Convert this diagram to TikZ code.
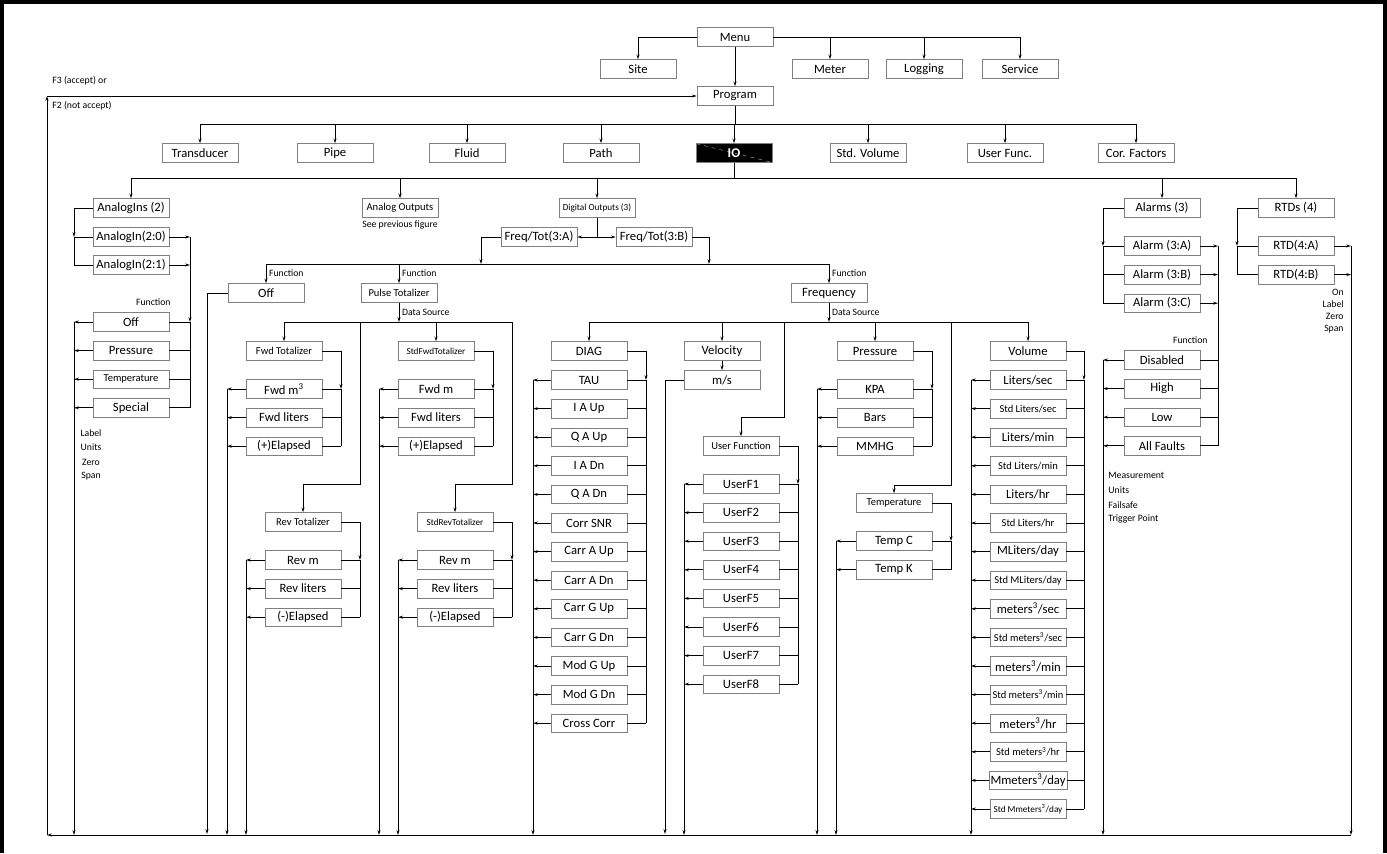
\documentclass[tikz,border=0pt]{standalone}
\usepackage{fontspec}
\setmainfont{Carlito}
\usetikzlibrary{arrows.meta}

\newcommand{\smtxt}{\fontsize{7.9}{8.5}\selectfont}
\newcommand{\tinytxt}{\fontsize{6.9}{7.5}\selectfont}
% one column of menu entries with its two rails
\newcommand{\menulist}[6]{%
	\coordinate (#1R) at (#4,0);
	\coordinate (#1L) at (#5,0);
	\foreach \t [count=\i] in {#6} {
		\node[box] (#1\i) at (#2,{#3+28.6*(\i-1)}) {\t};
		\draw (#1\i.east) -- (#1\i.east -| #1R);
		\draw[->] (#1\i.west) -- (#1\i.west -| #1L);
		\xdef\menulast{\i}
	}
	\draw (#11.east -| #1R) -- (#1\menulast.east -| #1R);
	\draw[->] (#11.west -| #1L) -- (#1L |- retbl);
}

\begin{document}
\begin{tikzpicture}[x=0.75pt,y=-0.75pt,line width=0.6pt,
		box/.style={draw=black!50,line width=0.5pt,fill=white,minimum width=57pt,minimum height=14pt,inner sep=1pt,font=\fontsize{9.5}{10}\selectfont},
		note/.style={font=\fontsize{7.3}{8}\selectfont,inner sep=0pt},
		>={Stealth[length=3.6pt,width=2.2pt]}]
	\useasboundingbox (0,0) rectangle (1387,853);
	\draw[line width=3pt] (2,853) -- (2,2) -- (1385,2) -- (1385,853);

	% return path
	\coordinate (retbr) at (1351,835);
	\coordinate (retbl) at (47,835);
	\coordinate (rettl) at (47,96);

	% Menu
	\node[box] (menu) at (735,37) {Menu};
	\node[box] (site) at (638,69) {Site};
	\node[box] (meter) at (830,69) {Meter};
	\node[box] (logging) at (924,69) {Logging};
	\node[box] (service) at (1020,69) {Service};
	\node[box] (program) at (735,96) {Program};
	\draw[->] (menu.west) -| (site.north);
	\draw[->] (menu.east) -| (service.north);
	\draw[->] (meter.north |- menu.east) -- (meter.north);
	\draw[->] (logging.north |- menu.east) -- (logging.north);
	\draw[->] (menu.south) -- (program.north);

	\draw[->] (retbr) -- (retbl);
	\draw[->] (retbl) -- (rettl);
	\draw[->] (rettl) -- (program.west);
	\node[note,anchor=west] at (52,81) {F3 (accept) or};
	\node[note,anchor=west] at (52,106) {F2 (not accept)};

	% Program
	\coordinate (bus1) at (0,124);
	\node[box] (transducer) at (200,153) {Transducer};
	\node[box] (pipe) at (335,153) {Pipe};
	\node[box] (fluid) at (467,153) {Fluid};
	\node[box] (path) at (601,153) {Path};
	\node[box,fill=black,text=white,font=\fontsize{10}{10}\selectfont\bfseries,
		path picture={\draw[black!45,dashed,line width=0.4pt] (path picture bounding box.north west) -- (path picture bounding box.south east);}] (io) at (734,153) {IO};
	\node[box] (stdvolume) at (868,153) {Std. Volume};
	\node[box] (userfunc) at (1005,153) {User Func.};
	\node[box] (corfactors) at (1136,153) {Cor. Factors};
	\draw (program.south) -- (program.south |- bus1);
	\draw (transducer.north |- bus1) -- (corfactors.north |- bus1);
	\foreach \n in {transducer,pipe,fluid,path,io,stdvolume,userfunc,corfactors}
		\draw[->] (\n.north |- bus1) -- (\n.north);

	% IO
	\coordinate (bus2) at (0,178);
	\node[box] (analogins) at (131,208) {AnalogIns (2)};
	\node[box,font=\smtxt] (analogouts) at (400,208) {Analog Outputs};
	\node[note] at (400,225) {See previous figure};
	\node[box,font=\tinytxt] (digouts) at (597,208) {Digital Outputs (3)};
	\node[box] (alarms) at (1162,208) {Alarms (3)};
	\node[box] (rtds) at (1296,208) {RTDs (4)};
	\draw (io.south) -- (io.south |- bus2);
	\draw (analogins.north |- bus2) -- (rtds.north |- bus2);
	\foreach \n in {analogins,analogouts,digouts,alarms,rtds}
		\draw[->] (\n.north |- bus2) -- (\n.north);

	% analog inputs
	\coordinate (ainL) at (74,0);
	\node[box] (ain1) at (131,237) {AnalogIn(2:0)};
	\node[box] (ain2) at (131,265) {AnalogIn(2:1)};
	\draw[->] (analogins.west) -| (ain1.west -| ainL);
	\draw (ain1.west -| ainL) -- (ain2.west -| ainL);
	\draw (ain1.west -| ainL) -- (ain1.west);
	\draw (ain2.west -| ainL) -- (ain2.west);
	\menulist{afn}{131}{322}{190}{74}{Off,Pressure,{\smtxt Temperature},Special}
	\draw[->] (ain1.east) -- (ain1.east -| afnR);
	\draw[->] (ain2.east) -- (ain2.east -| afnR);
	\draw[->] (ain1.east -| afnR) -- (afn1.east -| afnR);
	\node[note,anchor=east] at (171,302) {Function};
	\foreach \t [count=\i] in {Label,Units,Zero,Span}
		\node[note] at (91,{418.5+14.5*\i}) {\t};

	% digital outputs
	\node[box] (freqtotA) at (539,237) {Freq/Tot(3:A)};
	\node[box] (freqtotB) at (654,237) {Freq/Tot(3:B)};
	\coordinate (dsplit) at (597,237);
	\draw (digouts.south) -- (dsplit);
	\draw[->] (dsplit) -- (freqtotA.east);
	\draw[->] (dsplit) -- (freqtotB.west);
	\coordinate (bus3) at (0,264);
	\node[box] (fnoff) at (266,293) {Off};
	\node[box,font=\smtxt] (pulsetot) at (399,293) {Pulse Totalizer};
	\node[box] (frequency) at (829,293) {Frequency};
	\draw (fnoff.north |- bus3) -- (frequency.north |- bus3);
	\draw[->] (freqtotA.west) -| (481,264);
	\draw[->] (freqtotB.east) -| (709,264);
	\foreach \n in {fnoff,pulsetot,frequency}
		\draw[->] (\n.north |- bus3) -- (\n.north) node[note,midway,right=2pt] {Function};
	\draw[->] (fnoff.west) -| (207,834);

	% pulse totalizer
	\coordinate (bus4) at (0,322);
	\draw[->] (pulsetot.south) -- (pulsetot.south |- bus4) node[note,midway,right=2pt] {Data Source};
	\node[box,font=\smtxt] (fwdtot) at (284,351) {Fwd Totalizer};
	\node[box,font=\smtxt] (revtot) at (303,522) {Rev Totalizer};
	\node[box,font=\tinytxt] (stdfwdtot) at (436,351) {StdFwdTotalizer};
	\node[box,font=\tinytxt] (stdrevtot) at (455,522) {StdRevTotalizer};
	\menulist{fwd}{284}{389}{341}{227}{Fwd m\textsuperscript{3},Fwd liters,(+)Elapsed}
	\menulist{rev}{303}{560}{360}{246}{Rev m,Rev liters,(-)Elapsed}
	\menulist{sfwd}{436}{389}{493}{379}{Fwd m,Fwd liters,(+)Elapsed}
	\menulist{srev}{455}{560}{512}{398}{Rev m,Rev liters,(-)Elapsed}
	\draw (fwdtot.north |- bus4) -- (srevR |- bus4);
	\draw[->] (fwdtot.north |- bus4) -- (fwdtot.north);
	\draw[->] (stdfwdtot.north |- bus4) -- (stdfwdtot.north);
	\draw[->] (revR |- bus4) |- (revtot.north |- 0,484) -- (revtot.north);
	\draw[->] (srevR |- bus4) |- (stdrevtot.north |- 0,484) -- (stdrevtot.north);
	\foreach \n/\c in {fwdtot/fwd,revtot/rev,stdfwdtot/sfwd,stdrevtot/srev}
		\draw[->] (\n.east) -| (\c1.east -| \c R);

	% frequency
	\draw[->] (frequency.south) -- (frequency.south |- bus4) node[note,midway,right=2pt] {Data Source};
	\node[box] (diag) at (589,351) {DIAG};
	\node[box] (velocity) at (722,351) {Velocity};
	\node[box] (mps) at (722,380) {m/s};
	\node[box,font=\smtxt] (userfn) at (741,446) {User Function};
	\node[box] (pressure) at (875,351) {Pressure};
	\node[box,font=\smtxt] (temperature) at (894,503) {Temperature};
	\node[box] (volume) at (1028,351) {Volume};
	\menulist{dg}{589}{380}{646}{533}{TAU,I A Up,Q A Up,I A Dn,Q A Dn,Corr SNR,Carr A Up,Carr A Dn,Carr G Up,Carr G Dn,Mod G Up,Mod G Dn,Cross Corr}
	\menulist{uf}{741}{484}{798}{684}{UserF1,UserF2,UserF3,UserF4,UserF5,UserF6,UserF7,UserF8}
	\menulist{pr}{875}{389}{932}{817}{KPA,Bars,MMHG}
	\menulist{tp}{894}{541}{951}{836}{Temp C,Temp K}
	\menulist{vol}{1028}{380}{1084}{971}{Liters/sec,{\smtxt Std Liters/sec},Liters/min,{\smtxt Std Liters/min},Liters/hr,{\smtxt Std Liters/hr},MLiters/day,{\smtxt Std MLiters/day},meters\textsuperscript{3}/sec,{\smtxt Std meters\textsuperscript{3}/sec},meters\textsuperscript{3}/min,{\smtxt Std meters\textsuperscript{3}/min},meters\textsuperscript{3}/hr,{\smtxt Std meters\textsuperscript{3}/hr},Mmeters\textsuperscript{3}/day,{\tinytxt Std Mmeters\textsuperscript{3}/day}}
	\draw (diag.north |- bus4) -- (volume.north |- bus4);
	\foreach \n in {diag,velocity,pressure,volume}
		\draw[->] (\n.north |- bus4) -- (\n.north);
	\draw[->] (784,322) |- (userfn.north |- 0,417) -- (userfn.north);
	\draw[->] (tpR |- bus4) |- (temperature.north |- 0,485) -- (temperature.north);
	\foreach \n/\c in {diag/dg,userfn/uf,pressure/pr,temperature/tp,volume/vol}
		\draw[->] (\n.east) -| (\c1.east -| \c R);
	\draw[->] (velocity.south) -- (mps.north);
	\draw[->] (mps.west) -| (665,834);

	% alarms
	\foreach \t [count=\i] in {Alarm (3:A),Alarm (3:B),Alarm (3:C)}
		\node[box] (alarm\i) at (1162,{217.4+28.6*\i}) {\t};
	\menulist{afc}{1162}{360}{1218}{1103}{Disabled,High,Low,All Faults}
	\draw[->] (alarms.west) -| (alarm1.west -| afcL);
	\draw (alarm1.west -| afcL) -- (alarm3.west -| afcL);
	\foreach \i in {1,2,3} {
		\draw (alarm\i.west -| afcL) -- (alarm\i.west);
		\draw[->] (alarm\i.east) -- (alarm\i.east -| afcR);
	}
	\draw (alarm1.east -| afcR) -- (afc1.east -| afcR);
	\node[note,anchor=east] at (1208,340) {Function};
	\foreach \t/\y in {Measurement/475,Units/490,Failsafe/505,Trigger Point/519}
		\node[note,anchor=west] at (1108,\y) {\t};

	% RTDs
	\coordinate (rtdL) at (1237,0);
	\coordinate (rtdR) at (1351,0);
	\node[box] (rtd1) at (1296,246) {RTD(4:A)};
	\node[box] (rtd2) at (1296,274.6) {RTD(4:B)};
	\draw[->] (rtds.west) -| (rtd1.west -| rtdL);
	\draw (rtd1.west -| rtdL) -- (rtd2.west -| rtdL);
	\foreach \i in {1,2} {
		\draw (rtd\i.west -| rtdL) -- (rtd\i.west);
		\draw[->] (rtd\i.east) -- (rtd\i.east -| rtdR);
	}
	\draw[->] (rtd1.east -| rtdR) -- (retbr);
	\foreach \t [count=\i] in {On,Label,Zero,Span}
		\node[note,anchor=east] at (1344,{279.7+12.3*\i}) {\t};
\end{tikzpicture}
\end{document}
